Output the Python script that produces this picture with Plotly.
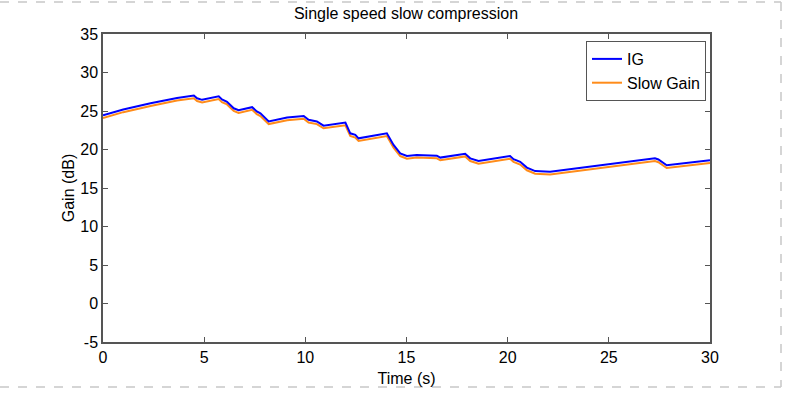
import plotly.graph_objects as go

time_s = [0, 1.0, 2.35, 3.66, 4.49, 4.65, 4.9, 5.72, 5.88, 6.13, 6.46, 6.7, 7.37, 7.6, 7.78,
          8.19, 9.1, 9.92, 10.16, 10.57, 10.9, 11.98, 12.22, 12.47, 12.63, 14.03, 14.36, 14.69,
          15.02, 15.5, 16.5, 16.67, 17.9, 18.15, 18.56, 20.12, 20.29, 20.62, 20.95, 21.36, 22.1,
          24.07, 27.28, 27.45, 27.86, 30]
ig_db = [24.45, 25.2, 26.0, 26.7, 27.0, 26.65, 26.45, 26.9, 26.5, 26.2, 25.35, 25.1, 25.5, 24.95,
         24.7, 23.65, 24.15, 24.35, 23.85, 23.65, 23.1, 23.5, 22.1, 21.9, 21.45, 22.1, 20.6, 19.5,
         19.15, 19.3, 19.2, 18.95, 19.45, 18.85, 18.5, 19.15, 18.75, 18.4, 17.65, 17.2, 17.1,
         17.75, 18.85, 18.7, 17.95, 18.6]
slow_gain_db = [24.1, 24.85, 25.65, 26.35, 26.65, 26.3, 26.1, 26.55, 26.15, 25.85, 25.0, 24.75,
                25.15, 24.6, 24.35, 23.3, 23.8, 24.0, 23.5, 23.3, 22.75, 23.15, 21.75, 21.55, 21.1,
                21.75, 20.25, 19.15, 18.8, 18.95, 18.85, 18.6, 19.1, 18.5, 18.15, 18.8, 18.4, 18.05,
                17.3, 16.85, 16.75, 17.4, 18.5, 18.35, 17.6, 18.25]
x_ticks = [0, 5, 10, 15, 20, 25, 30]
y_ticks = [-5, 0, 5, 10, 15, 20, 25, 30, 35]

FONT = "Liberation Sans Narrow, Arial Narrow, Liberation Sans, Arial, sans-serif"
W, H = 785, 393
ML, MR, MT, MB = 103, 75, 34, 51
pw, ph = W - ML - MR, H - MT - MB

fig = go.Figure()
fig.add_trace(go.Scatter(x=time_s, y=slow_gain_db, mode="lines", name="Slow Gain",
                         line=dict(color="#ff8c1a", width=2), legendrank=2))
fig.add_trace(go.Scatter(x=time_s, y=ig_db, mode="lines", name="IG",
                         line=dict(color="#0000ff", width=2), legendrank=1))

axis_common = dict(showline=True, linecolor="#555555", linewidth=1.5, mirror="allticks",
                   ticks="inside", ticklen=5, tickcolor="#555555", showgrid=False,
                   zeroline=False, automargin=False,
                   tickfont=dict(family=FONT, size=16, color="black"))
fig.update_xaxes(range=[0, 30], tickvals=x_ticks, ticktext=[str(v) for v in x_ticks],
                 title=dict(text="Time (s)", font=dict(family=FONT, size=16, color="black"),
                            standoff=8), **axis_common)
fig.update_yaxes(range=[-5, 35], tickvals=y_ticks, ticktext=[str(v) for v in y_ticks],
                 title=dict(text="Gain (dB)", font=dict(family=FONT, size=16, color="black"),
                            standoff=2), **axis_common)

def px2paper_x(px):
    return (px - ML) / pw

def py2paper_y(py):
    return (H - MB - py) / ph

dash_line = dict(color="#c8c8c8", width=1.5, dash="dash")
shapes = [
    dict(type="line", xref="paper", yref="paper", x0=px2paper_x(0), x1=px2paper_x(781),
         y0=py2paper_y(2), y1=py2paper_y(2), line=dash_line),
    dict(type="line", xref="paper", yref="paper", x0=px2paper_x(0), x1=px2paper_x(781),
         y0=py2paper_y(387), y1=py2paper_y(387), line=dash_line),
    dict(type="line", xref="paper", yref="paper", x0=px2paper_x(781), x1=px2paper_x(781),
         y0=py2paper_y(2), y1=py2paper_y(387), line=dash_line),
]

fig.update_layout(
    width=W, height=H, margin=dict(l=ML, r=MR, t=MT, b=MB, autoexpand=False),
    paper_bgcolor="white", plot_bgcolor="white",
    title=dict(text="Single speed slow compression", x=px2paper_x(406), xref="paper",
               xanchor="center", y=1 - 13 / H, yanchor="middle",
               font=dict(family=FONT, size=16, color="black")),
    legend=dict(x=px2paper_x(706), y=py2paper_y(41), xanchor="right", yanchor="top",
                bordercolor="#555555", borderwidth=1, bgcolor="white", itemwidth=30,
                font=dict(family=FONT, size=16, color="black"), tracegroupgap=0),
    shapes=shapes, showlegend=True,
)

fig.write_html("out.html", config={"displayModeBar": False},
               post_script="document.body.style.margin='0';document.body.style.padding='0';")
